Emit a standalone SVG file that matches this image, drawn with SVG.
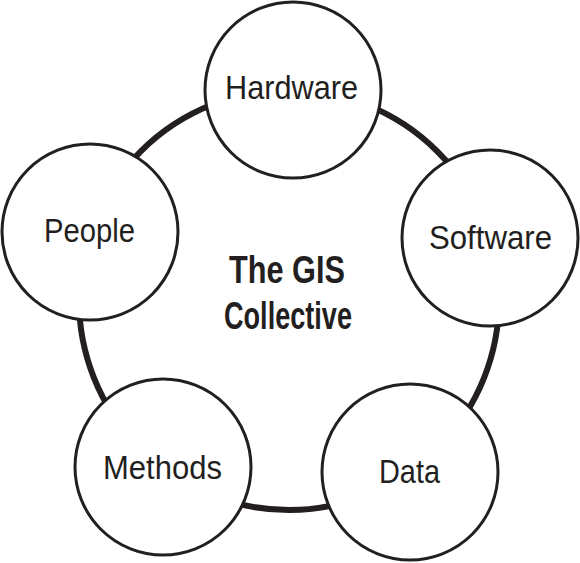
<svg xmlns="http://www.w3.org/2000/svg" width="580" height="563" viewBox="0 0 580 563">
<style>
.node{fill:#fff;stroke:#231f20;stroke-width:3}
.lbl{font-family:"Liberation Sans",Arial,sans-serif;font-size:34px;fill:#231f20;text-anchor:middle}
.title{font-family:"Liberation Sans",Arial,sans-serif;font-size:38px;font-weight:bold;fill:#231f20;text-anchor:middle}
</style>
<rect width="580" height="563" fill="#fff"/>
<g id="connectors">
<circle cx="289" cy="300" r="210" fill="none" stroke="#231f20" stroke-width="6"/>
</g>
<g id="center">
<text class="title" x="287" y="283" textLength="116" lengthAdjust="spacingAndGlyphs">The GIS</text>
<text class="title" x="288" y="329" textLength="128" lengthAdjust="spacingAndGlyphs">Collective</text>
</g>
<g id="hardware">
<circle class="node" cx="293" cy="90" r="88"/>
<text class="lbl" x="291.5" y="99" textLength="133" lengthAdjust="spacingAndGlyphs">Hardware</text>
</g>
<g id="software">
<circle class="node" cx="490" cy="238" r="88"/>
<text class="lbl" x="490.5" y="249" textLength="123" lengthAdjust="spacingAndGlyphs">Software</text>
</g>
<g id="data">
<circle class="node" cx="410" cy="472" r="88"/>
<text class="lbl" x="409.5" y="483" textLength="61" lengthAdjust="spacingAndGlyphs">Data</text>
</g>
<g id="methods">
<circle class="node" cx="163" cy="467" r="88"/>
<text class="lbl" x="162.5" y="479" textLength="119" lengthAdjust="spacingAndGlyphs">Methods</text>
</g>
<g id="people">
<circle class="node" cx="90" cy="232" r="88"/>
<text class="lbl" x="89.5" y="242" textLength="91" lengthAdjust="spacingAndGlyphs">People</text>
</g>
</svg>
